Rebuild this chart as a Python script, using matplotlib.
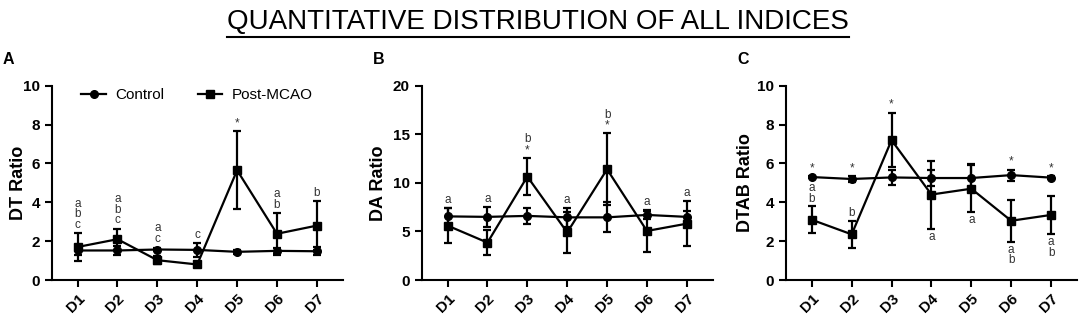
import matplotlib
matplotlib.use("Agg")
import matplotlib.pyplot as plt
from matplotlib.lines import Line2D

plt.rcParams['font.family'] = ['Liberation Sans', 'DejaVu Sans']

DAYS = ['D1', 'D2', 'D3', 'D4', 'D5', 'D6', 'D7']

# panel A - DT ratio
dt_ctrl = [1.52, 1.52, 1.57, 1.55, 1.45, 1.50, 1.48]
dt_ctrl_err = [0.25, 0.25, 0.10, 0.35, 0.10, 0.15, 0.20]
dt_post = [1.70, 2.10, 1.02, 0.80, 5.65, 2.38, 2.80]
dt_post_err = [0.72, 0.55, 0.22, 0.12, 2.00, 1.07, 1.28]

# panel B - DA ratio
da_ctrl = [6.55, 6.50, 6.60, 6.45, 6.45, 6.70, 6.50]
da_ctrl_err = [0.85, 1.00, 0.80, 1.00, 1.55, 0.45, 0.60]
da_post = [5.60, 3.85, 10.65, 4.90, 11.40, 5.05, 5.80]
da_post_err = [1.80, 1.25, 1.90, 2.15, 3.70, 2.15, 2.30]

# panel C - DTAB ratio
dtab_ctrl = [5.30, 5.20, 5.28, 5.25, 5.25, 5.40, 5.27]
dtab_ctrl_err = [0.05, 0.15, 0.40, 0.40, 0.70, 0.28, 0.08]
dtab_post = [3.10, 2.35, 7.20, 4.40, 4.70, 3.05, 3.35]
dtab_post_err = [0.70, 0.70, 1.40, 1.75, 1.20, 1.08, 1.00]

# significance letters: (day index, text, y anchor in data units, 'above'/'below')
dt_marks = [(0, 'a\nb\nc', 2.42, 'above'), (1, 'a\nb\nc', 2.65, 'above'),
            (2, 'a\nc', 1.70, 'above'), (3, 'c', 1.90, 'above'),
            (4, '*', 7.65, 'above'), (5, 'a\nb', 3.45, 'above'),
            (6, 'b', 4.08, 'above')]
da_marks = [(0, 'a', 7.40, 'above'), (1, 'a', 7.50, 'above'),
            (2, 'b\n*', 12.55, 'above'), (3, 'a', 7.45, 'above'),
            (4, 'b\n*', 15.10, 'above'), (5, 'a', 7.20, 'above'),
            (6, 'a', 8.10, 'above')]
dtab_marks = [(0, '*', 5.35, 'above'), (0, 'a\nb', 5.15, 'below'),
              (1, '*', 5.35, 'above'), (1, 'b', 3.05, 'above'),
              (2, '*', 8.60, 'above'), (3, 'a', 2.65, 'below'),
              (4, 'a', 3.50, 'below'), (5, '*', 5.68, 'above'),
              (5, 'a\nb', 1.97, 'below'), (6, '*', 5.35, 'above'),
              (6, 'a\nb', 2.35, 'below')]

fig = plt.figure(figsize=(10.84, 3.2), dpi=100)

panels = [
    ('A', 'DT Ratio', dt_ctrl, dt_ctrl_err, dt_post, dt_post_err, 10, 2, dt_marks, 0.0477, -0.085),
    ('B', 'DA Ratio', da_ctrl, da_ctrl_err, da_post, da_post_err, 20, 5, da_marks, 0.389, -0.119),
    ('C', 'DTAB Ratio', dtab_ctrl, dtab_ctrl_err, dtab_post, dtab_post_err, 10, 2, dtab_marks, 0.725, -0.110),
]

x = list(range(1, 8))
for letter, ylabel, ctrl, cerr, post, perr, ymax, ystep, marks, left, labx in panels:
    ax = fig.add_axes([left, 0.125, 0.2685, 0.607])
    ax.errorbar(x, ctrl, yerr=cerr, fmt='none', ecolor='black',
                elinewidth=1.6, capsize=2.8, capthick=1.6)
    ax.errorbar(x, post, yerr=perr, fmt='none', ecolor='black',
                elinewidth=1.6, capsize=2.8, capthick=1.6)
    ax.plot(x, ctrl, color='black', marker='o', markersize=5.5, linewidth=1.6, label='Control')
    ax.plot(x, post, color='black', marker='s', markersize=6, linewidth=1.6, label='Post-MCAO')

    for i, txt, yv, side in marks:
        if side == 'above':
            ax.annotate(txt, (x[i], yv), xytext=(0, 1.5), textcoords='offset points',
                        ha='center', va='bottom', fontsize=8.5, color='#333333',
                        linespacing=0.85)
        else:
            ax.annotate(txt, (x[i], yv), xytext=(0, -1.5), textcoords='offset points',
                        ha='center', va='top', fontsize=8.5, color='#333333',
                        linespacing=0.85)

    ax.set_xlim(0.35, 7.65)
    ax.set_ylim(0, ymax)
    ax.set_yticks(range(0, ymax + 1, ystep))
    ax.set_xticks(x)
    ax.set_xticklabels(DAYS, rotation=45, ha='right', rotation_mode='anchor')
    for s in ['top', 'right']:
        ax.spines[s].set_visible(False)
    for s in ['left', 'bottom']:
        ax.spines[s].set_linewidth(1.5)
    ax.tick_params(width=1.5, length=5, labelsize=11)
    for lab in ax.get_xticklabels() + ax.get_yticklabels():
        lab.set_fontweight('bold')
    ax.set_ylabel(ylabel, fontsize=13, fontweight='bold')
    ax.yaxis.set_label_coords(labx, 0.5)

    fig.text(left - 0.045, 0.80, letter, fontsize=11.5, fontweight='bold')

    if letter == 'A':
        ax.legend(loc='upper left', ncol=2, frameon=False, fontsize=11,
                  bbox_to_anchor=(0.055, 1.06), columnspacing=2.2, handlelength=1.6,
                  handletextpad=0.6)

title = fig.text(0.496, 0.89, 'QUANTITATIVE DISTRIBUTION OF ALL INDICES',
                 ha='center', va='bottom', fontsize=20,
                 family=['Liberation Sans Narrow', 'Liberation Sans', 'DejaVu Sans'])
fig.canvas.draw()
bb = title.get_window_extent().transformed(fig.transFigure.inverted())
fig.add_artist(Line2D([bb.x0, bb.x1], [0.885, 0.885], color='black', linewidth=1.5,
                      transform=fig.transFigure))

fig.savefig('out.png', dpi=100)
